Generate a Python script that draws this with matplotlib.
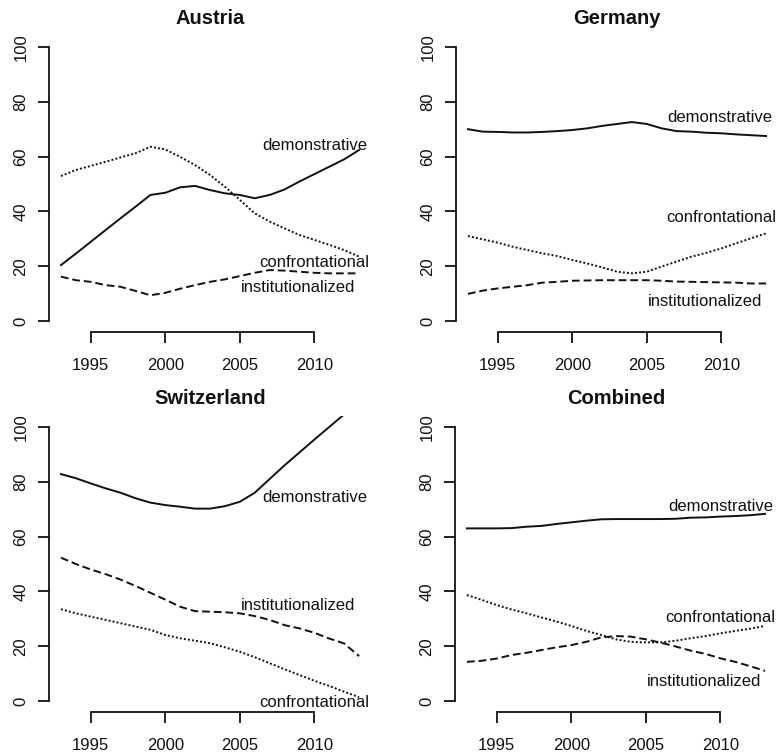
import matplotlib
matplotlib.use("Agg")
import matplotlib.pyplot as plt

plt.rcParams["font.family"] = ["Liberation Sans", "DejaVu Sans"]

years = list(range(1993, 2014))

# Austria
austria_demonstrative = [20.4, 24.6, 28.9, 33.2, 37.5, 41.7, 46.0, 46.8, 48.8, 49.3, 47.8,
                         46.6, 46.0, 44.8, 46.0, 48.0, 50.9, 53.6, 56.3, 59.0, 62.4]
austria_confrontational = [52.9, 55.1, 56.6, 58.1, 59.7, 61.2, 63.6, 62.6, 59.9, 56.9, 53.3,
                           49.0, 44.2, 39.3, 36.3, 33.8, 31.4, 29.6, 27.8, 25.9, 23.5]
austria_institutionalized = [16.2, 14.9, 14.3, 13.1, 12.5, 11.0, 9.4, 10.3, 11.8, 13.1, 14.3,
                             15.2, 16.4, 17.6, 18.6, 18.4, 18.0, 17.6, 17.4, 17.4, 17.4]

# Germany
germany_demonstrative = [70.0, 69.1, 69.0, 68.8, 68.8, 69.0, 69.3, 69.7, 70.3, 71.2, 71.9,
                         72.6, 71.9, 70.3, 69.3, 69.1, 68.7, 68.5, 68.1, 67.8, 67.5]
germany_confrontational = [31.0, 29.8, 28.6, 27.1, 25.9, 24.7, 23.7, 22.3, 21.0, 19.6, 18.0,
                           17.4, 18.0, 19.9, 21.7, 23.5, 24.9, 26.5, 28.4, 30.2, 32.0]
germany_institutionalized = [9.9, 11.1, 11.9, 12.5, 13.1, 14.0, 14.3, 14.7, 14.8, 14.9, 14.9,
                             14.9, 14.9, 14.7, 14.4, 14.3, 14.2, 14.1, 14.0, 13.7, 13.7]

# Switzerland
switzerland_demonstrative = [82.8, 81.3, 79.4, 77.6, 76.0, 74.0, 72.4, 71.5, 70.9, 70.2, 70.2,
                             71.1, 72.7, 76.0, 81.0, 86.0, 90.7, 95.4, 100.0, 104.6, 109.0]
switzerland_confrontational = [33.5, 32.0, 30.8, 29.6, 28.4, 27.2, 26.0, 24.1, 22.9, 22.0, 21.1,
                               19.6, 18.0, 16.0, 13.8, 11.6, 9.5, 7.4, 5.5, 3.4, 1.4]
switzerland_institutionalized = [52.3, 50.0, 48.0, 46.3, 44.3, 42.0, 39.5, 37.0, 34.4, 32.8, 32.6,
                                 32.4, 32.0, 31.0, 29.6, 27.7, 26.5, 24.9, 22.8, 21.0, 16.4]

# Combined
combined_demonstrative = [63.0, 63.0, 63.0, 63.1, 63.6, 63.9, 64.6, 65.2, 65.8, 66.3, 66.4,
                          66.4, 66.4, 66.4, 66.5, 66.9, 67.0, 67.3, 67.5, 67.8, 68.3]
combined_confrontational = [38.7, 36.9, 35.0, 33.4, 32.0, 30.5, 29.0, 27.4, 25.6, 24.1, 22.5,
                            21.6, 21.4, 21.4, 22.0, 22.9, 23.7, 24.7, 25.6, 26.4, 27.4]
combined_institutionalized = [14.3, 14.7, 15.5, 16.8, 17.6, 18.6, 19.6, 20.4, 21.6, 23.2, 23.7,
                              23.5, 22.5, 21.3, 19.9, 18.4, 17.2, 15.6, 14.3, 12.7, 11.0]

x_ticks = [1995, 2000, 2005, 2010]
y_ticks = [0, 20, 40, 60, 80, 100]

panels = [
    ("Austria", austria_demonstrative, austria_confrontational, austria_institutionalized,
     {"demonstrative": (2010.0, 64.2), "confrontational": (2010.0, 21.2),
      "institutionalized": (2008.9, 12.4)}),
    ("Germany", germany_demonstrative, germany_confrontational, germany_institutionalized,
     {"demonstrative": (2009.9, 74.4), "confrontational": (2010.0, 37.6),
      "institutionalized": (2008.9, 7.0)}),
    ("Switzerland", switzerland_demonstrative, switzerland_confrontational,
     switzerland_institutionalized,
     {"demonstrative": (2010.0, 74.1), "confrontational": (2010.0, -0.7),
      "institutionalized": (2008.9, 34.8)}),
    ("Combined", combined_demonstrative, combined_confrontational, combined_institutionalized,
     {"demonstrative": (2010.0, 71.1), "confrontational": (2010.0, 30.3),
      "institutionalized": (2008.9, 7.2)}),
]

W, H = 780, 756
fig = plt.figure(figsize=(W / 100, H / 100), dpi=100)

# plot regions in pixels: (left, top, width, height)
regions = [(49, 36, 322, 296), (456, 36, 322, 296),
           (49, 416, 322, 296), (455, 416, 322, 296)]

lw = 1.4
styles = {
    "demonstrative": "-",
    "confrontational": (0, (1.0, 1.1)),
    "institutionalized": (0, (4.0, 2.0)),
}
ink = "#111111"

for (name, dem, con, ins, labels), (l, t, w, h) in zip(panels, regions):
    ax = fig.add_axes([l / W, (H - t - h) / H, w / W, h / H])
    ax.plot(years, dem, color=ink, lw=lw, linestyle=styles["demonstrative"])
    ax.plot(years, con, color=ink, lw=lw, linestyle=styles["confrontational"])
    ax.plot(years, ins, color=ink, lw=lw, linestyle=styles["institutionalized"])
    for key, (lx, ly) in labels.items():
        ax.text(lx, ly, key, ha="center", va="center", fontsize=12, color=ink)

    ax.set_xlim(1992.2, 2013.8)
    ax.set_ylim(-4, 104)
    ax.set_xticks(x_ticks)
    ax.set_yticks(y_ticks)
    ax.set_yticklabels([str(v) for v in y_ticks], rotation=90, va="center")
    for side in ("top", "right"):
        ax.spines[side].set_visible(False)
    ax.spines["left"].set_bounds(0, 100)
    ax.spines["bottom"].set_bounds(1995, 2010)
    for side in ("left", "bottom"):
        ax.spines[side].set_linewidth(1.3)
        ax.spines[side].set_color(ink)
    ax.tick_params(axis="both", direction="out", length=8.2, width=1.3,
                   color=ink, labelsize=12, labelcolor=ink)
    ax.tick_params(axis="x", pad=10.5)
    ax.tick_params(axis="y", pad=6.5)
    ax.set_facecolor("none")
    ax.set_title(name, fontsize=14.5, fontweight="bold", pad=9, color=ink)

fig.savefig("out.png", dpi=100)
